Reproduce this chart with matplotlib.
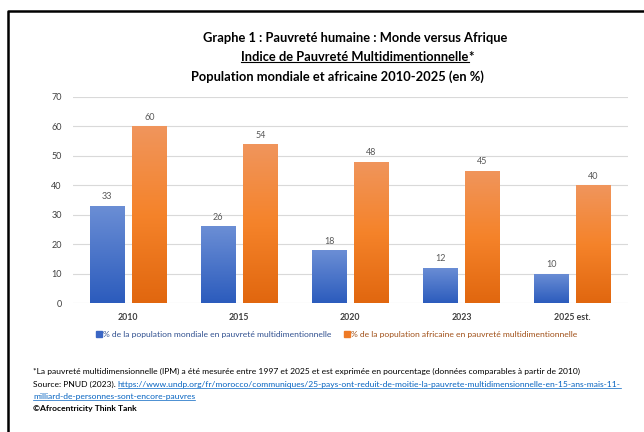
import numpy as np
import matplotlib
matplotlib.use("Agg")
import matplotlib.pyplot as plt
from matplotlib.colors import LinearSegmentedColormap
from matplotlib.lines import Line2D

# ----- DATA -----
years = ["2010", "2015", "2020", "2023", "2025 est."]
world = [33, 26, 18, 12, 10]
africa = [60, 54, 48, 45, 40]
yticks = [0, 10, 20, 30, 40, 50, 60, 70]

label_world = "% de la population mondiale en pauvreté multidimentionnelle"
label_africa = "% de la population africaine en pauvreté multidimentionnelle"

plt.rcParams["font.family"] = ["Lato", "DejaVu Sans"]

fig = plt.figure(figsize=(6.44, 4.32), dpi=100)
ax = fig.add_axes([0.113, 0.2986, 0.862, 0.4769])

blue_cmap = LinearSegmentedColormap.from_list("b", ["#2c5cbd", "#6b8ed5"])
orange_cmap = LinearSegmentedColormap.from_list("o", ["#e1670f", "#f5832a", "#f0955c"])
grad = np.linspace(0, 1, 100).reshape(-1, 1)

x = np.arange(len(years))
w = 0.315
off = 0.19

# gridlines
for t in yticks:
    ax.axhline(t, color="#d9d9d9", lw=0.8, zorder=0)

def gradient_bars(xs, vals, cmap):
    bars = ax.bar(xs, vals, width=w, color="none", zorder=2)
    for b in bars:
        x0, y0 = b.get_x(), b.get_y()
        im = ax.imshow(grad, cmap=cmap, aspect="auto", origin="lower",
                       extent=[x0, x0 + b.get_width(), y0, y0 + b.get_height()],
                       zorder=2)
        im.set_clip_path(b)
    return bars

gradient_bars(x - off, world, blue_cmap)
gradient_bars(x + off, africa, orange_cmap)

for i in range(len(years)):
    ax.text(x[i] - off, world[i] + 1.5, str(world[i]), ha="center", va="bottom",
            fontsize=6.5, color="#595959")
    ax.text(x[i] + off, africa[i] + 1.5, str(africa[i]), ha="center", va="bottom",
            fontsize=6.5, color="#595959")

ax.set_xlim(-0.5, len(years) - 0.5)
ax.set_ylim(0, 70)
ax.set_yticks(yticks)
ax.set_xticks(x)
ax.set_xticklabels(years, fontsize=6.3, fontweight="bold", color="#404040")
ax.tick_params(axis="y", labelsize=6.5, labelcolor="#404040", length=0, pad=8)
ax.tick_params(axis="x", length=0, pad=7)
for s in ax.spines.values():
    s.set_visible(False)

# legend
handles = [Line2D([], [], marker="s", ls="", color="#3a66c4", markersize=5),
           Line2D([], [], marker="s", ls="", color="#ee7a26", markersize=5)]
leg = fig.legend(handles, [label_world, label_africa], loc="center",
                 bbox_to_anchor=(0.522, 1 - 334 / 432), ncol=2, frameon=False,
                 fontsize=6.1, handletextpad=0.0, columnspacing=1.3,
                 handlelength=1.0)
leg.get_texts()[0].set_color("#2f4f8f")
leg.get_texts()[1].set_color("#a04f17")

# titles
fig.text(355 / 644, 1 - 38 / 432, "Graphe 1 : Pauvreté humaine : Monde versus Afrique",
         ha="center", va="center", fontsize=9.3, fontweight="bold")
t2 = fig.text(355 / 644, 1 - 57 / 432, "Indice de Pauvreté Multidimentionnelle",
              ha="center", va="center", fontsize=9.3, fontweight="bold")
t3 = fig.text(337 / 644, 1 - 77 / 432, "Population mondiale et africaine 2010-2025 (en %)",
              ha="center", va="center", fontsize=9.3, fontweight="bold")

fig.canvas.draw()
r = fig.canvas.get_renderer()
bb = t2.get_window_extent(r).transformed(fig.transFigure.inverted())
fig.text(bb.x1, 1 - 57 / 432, "*", ha="left", va="center", fontsize=9.3, fontweight="bold")
fig.add_artist(Line2D([bb.x0, bb.x1], [bb.y0 + 0.002, bb.y0 + 0.002], color="black", lw=0.8,
                      transform=fig.transFigure))

# footnotes
fx = 33 / 644
fs = 6.1
fig.text(fx, 1 - 371 / 432,
         "*La pauvreté multidimensionnelle (IPM) a été mesurée entre 1997 et 2025 et est exprimée en pourcentage (données comparables à partir de 2010)",
         fontsize=fs, va="center")
src = fig.text(fx, 1 - 384 / 432, "Source: PNUD (2023). ", fontsize=fs, va="center")
fig.canvas.draw()
sb = src.get_window_extent(r).transformed(fig.transFigure.inverted())
link1 = fig.text(sb.x1, 1 - 384 / 432,
                 "https://www.undp.org/fr/morocco/communiques/25-pays-ont-reduit-de-moitie-la-pauvrete-multidimensionnelle-en-15-ans-mais-11-",
                 fontsize=fs, va="center", color="#0563c1")
link2 = fig.text(fx, 1 - 396 / 432, "milliard-de-personnes-sont-encore-pauvres",
                 fontsize=fs, va="center", color="#0563c1")
fig.canvas.draw()
for lt in (link1, link2):
    lb = lt.get_window_extent(r).transformed(fig.transFigure.inverted())
    fig.add_artist(Line2D([lb.x0, lb.x1], [lb.y0, lb.y0], color="#0563c1", lw=0.5,
                          transform=fig.transFigure))
fig.text(fx, 1 - 408 / 432, "©Afrocentricity Think Tank", fontsize=fs, va="center",
         fontweight="bold")

# frame (top and left)
fig.add_artist(Line2D([8 / 644, 8 / 644, 1.0], [0.0, 1 - 11 / 432, 1 - 11 / 432],
                      color="black", lw=1.8, transform=fig.transFigure))

fig.savefig("out.png", dpi=100)
